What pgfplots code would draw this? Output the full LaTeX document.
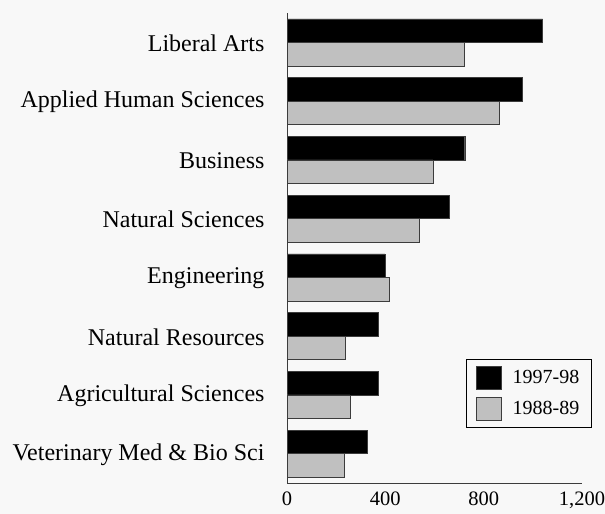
\documentclass[border=0pt]{standalone}
\usepackage{fontspec}
\setmainfont{Liberation Serif}
\usepackage{pgfplots}
\pgfplotsset{compat=1.18}
\definecolor{bg}{RGB}{248,248,248}
\definecolor{barg}{RGB}{192,192,192}
\definecolor{edge}{RGB}{60,60,60}
\begin{document}
\begin{tikzpicture}
\path[use as bounding box, fill=bg] (0,0) rectangle (605bp,514bp);
\begin{axis}[
  at={(287bp,31bp)}, anchor=south west,
  scale only axis, width=295bp, height=470bp,
  xbar, bar width=0.4,
  xmin=0, xmax=1200, ymin=-0.5, ymax=7.5,
  axis lines*=left,
  axis line style={-, edge, line width=0.8pt},
  major tick length=0pt,
  xtick={0,400,800,1200},
  /pgf/number format/assume math mode=true,
  /pgf/number format/1000 sep={,},
  xticklabel style={font=\fontsize{20.5bp}{24bp}\selectfont, yshift=-8bp, inner ysep=1bp},
  ytick={0,...,7},
  yticklabels={Veterinary Med \& Bio Sci, Agricultural Sciences, Natural Resources, Engineering, Natural Sciences, Business, Applied Human Sciences, Liberal Arts},
  yticklabel style={font=\fontsize{24bp}{28bp}\selectfont, xshift=-19bp, yshift=-1bp},
  legend style={at={(0.607,0.264)}, anchor=north west, draw=black, fill=bg,
    font=\fontsize{20bp}{24bp}\selectfont, row sep=7bp, inner xsep=10bp, inner ysep=7bp,
    /tikz/every odd column/.append style={column sep=9bp}},
  legend cell align=left,
  legend image code/.code={\draw[#1] (0bp,-11.5bp) rectangle (25bp,11.5bp);},
]
\addplot[fill=black, draw=edge, bar shift=0.2] coordinates {
  (325,0) (372,1) (373,2) (398,3) (658,4) (723,5) (958,6) (1040,7)};
\addplot[fill=barg, draw=edge, bar shift=-0.2] coordinates {
  (231,0) (256,1) (235,2) (414,3) (536,4) (593,5) (865,6) (719,7)};
\legend{1997-98, 1988-89}
\end{axis}
\end{tikzpicture}
\end{document}
